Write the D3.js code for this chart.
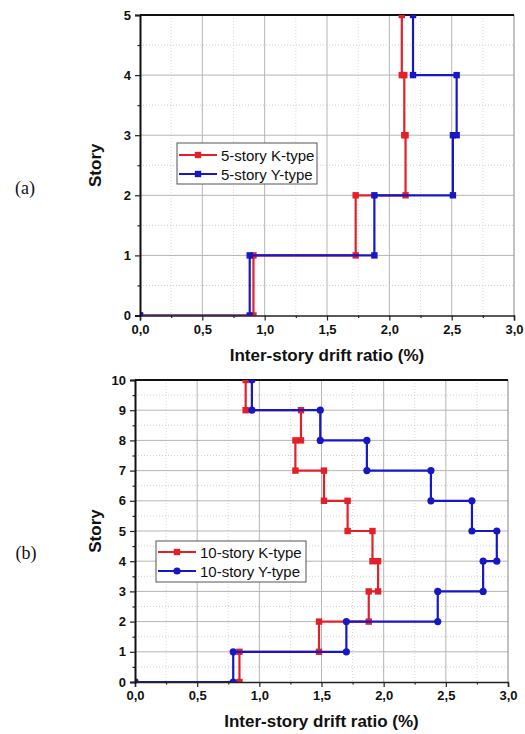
<!DOCTYPE html>
<html>
<head>
<meta charset="utf-8">
<script src="https://cdn.jsdelivr.net/npm/d3@7"></script>
<style>
  html, body { margin: 0; padding: 0; background: #fff; }
  svg { display: block; }
  .tick-label { font-family: "Liberation Sans", Arial, sans-serif; font-weight: bold; font-size: 13px; fill: #111; }
  .axis-title { font-family: "Liberation Sans", Arial, sans-serif; font-weight: bold; font-size: 17px; fill: #111; }
  .legend-text { font-family: "Liberation Sans", Arial, sans-serif; font-size: 15px; fill: #111; }
  .panel-tag { font-family: "Liberation Serif", "Times New Roman", serif; font-size: 18px; fill: #111; }
</style>
</head>
<body>
<svg id="chart" width="525" height="734"></svg>
<script>
// Peak inter-story drift ratio (%) for each story, bottom story first
const stories5 = [1, 2, 3, 4, 5];
const drift5K = [0.91, 1.73, 2.13, 2.12, 2.10];
const drift5Y = [0.88, 1.88, 2.51, 2.54, 2.19];

const stories10 = [1, 2, 3, 4, 5, 6, 7, 8, 9, 10];
const drift10K = [0.84, 1.48, 1.88, 1.955, 1.91, 1.71, 1.52, 1.29, 1.335, 0.89];
const drift10Y = [0.79, 1.70, 2.435, 2.80, 2.91, 2.71, 2.38, 1.865, 1.49, 0.94];

const xTicks = [0, 0.5, 1.0, 1.5, 2.0, 2.5, 3.0];
const xTickLabels = ["0,0", "0,5", "1,0", "1,5", "2,0", "2,5", "3,0"];
const xTitle = "Inter-story drift ratio (%)";
const yTitle = "Story";

const RED = "#e3202a";
const BLUE = "#1717c6";

const svg = d3.select("#chart");

// Step profile: from the ground at zero drift, each story rises at its own drift value
function stepPoints(stories, drift) {
  const pts = [[0, 0]];
  stories.forEach((s, i) => {
    pts.push([drift[i], s - 1]);
    pts.push([drift[i], s]);
  });
  return pts;
}

function drawPanel(opt) {
  const { id, left, right, top, bottom, nStories, series, legend, tag } = opt;
  const x = d3.scaleLinear().domain([0, 3]).range([left, right]);
  const y = d3.scaleLinear().domain([0, nStories]).range([bottom, top]);
  const g = svg.append("g");

  g.append("clipPath").attr("id", "clip-" + id)
    .append("rect").attr("x", left).attr("y", top)
    .attr("width", right - left).attr("height", bottom - top);

  // minor grid (dotted)
  const xMinor = d3.range(0.25, 3, 0.5);
  const yMinor = d3.range(0.5, nStories, 1);
  g.selectAll(".xminor").data(xMinor).join("line")
    .attr("x1", d => x(d)).attr("x2", d => x(d)).attr("y1", top).attr("y2", bottom)
    .attr("stroke", "#d8d8d8").attr("stroke-width", 1).attr("stroke-dasharray", "1,2");
  g.selectAll(".yminor").data(yMinor).join("line")
    .attr("x1", left).attr("x2", right).attr("y1", d => y(d)).attr("y2", d => y(d))
    .attr("stroke", "#cfcfcf").attr("stroke-width", 1).attr("stroke-dasharray", "1,2");

  // major grid
  g.selectAll(".xmajor").data(xTicks.slice(1, -1)).join("line")
    .attr("x1", d => x(d)).attr("x2", d => x(d)).attr("y1", top).attr("y2", bottom)
    .attr("stroke", "#b5b5b5").attr("stroke-width", 1);
  g.selectAll(".ymajor").data(d3.range(1, nStories)).join("line")
    .attr("x1", left).attr("x2", right).attr("y1", d => y(d)).attr("y2", d => y(d))
    .attr("stroke", "#b5b5b5").attr("stroke-width", 1);

  // frame: right border thin gray, top border black
  g.append("line").attr("x1", right).attr("x2", right).attr("y1", top).attr("y2", bottom)
    .attr("stroke", "#9a9a9a").attr("stroke-width", 1.2);
  g.append("line").attr("x1", left).attr("x2", right).attr("y1", top).attr("y2", top)
    .attr("stroke", "#111").attr("stroke-width", 2);

  // data
  const dataG = g.append("g").attr("clip-path", "url(#clip-" + id + ")");
  const line = d3.line().x(d => x(d[0])).y(d => y(d[1]));
  series.forEach(s => {
    const pts = stepPoints(s.stories, s.drift);
    dataG.append("path").datum(pts).attr("d", line)
      .attr("fill", "none").attr("stroke", s.color).attr("stroke-width", 2.2);
    if (s.symbol === "circle") {
      dataG.selectAll(null).data(pts).join("circle")
        .attr("cx", d => x(d[0])).attr("cy", d => y(d[1])).attr("r", 3.6)
        .attr("fill", s.color);
    } else {
      dataG.selectAll(null).data(pts).join("rect")
        .attr("x", d => x(d[0]) - 3.2).attr("y", d => y(d[1]) - 3.2)
        .attr("width", 6.4).attr("height", 6.4).attr("fill", s.color);
    }
  });

  // bottom axis
  const xAxis = d3.axisBottom(x).tickValues(xTicks)
    .tickFormat((d, i) => xTickLabels[i]).tickSize(5).tickPadding(4);
  const xa = g.append("g").attr("transform", `translate(0,${bottom})`).call(xAxis);
  xa.select(".domain").attr("stroke", "#222").attr("stroke-width", 1.5);
  xa.selectAll(".tick line").attr("stroke", "#222").attr("stroke-width", 1.2);
  xa.selectAll(".tick text").attr("class", "tick-label").attr("font-size", null).attr("font-family", null);
  const xMinorAxis = d3.axisBottom(x).tickValues(xMinor).tickSize(2.5).tickFormat("");
  const xm = g.append("g").attr("transform", `translate(0,${bottom})`).call(xMinorAxis);
  xm.select(".domain").remove();
  xm.selectAll(".tick line").attr("stroke", "#222").attr("stroke-width", 1.2);

  // left axis
  const yAxis = d3.axisLeft(y).tickValues(d3.range(0, nStories + 1))
    .tickFormat(d3.format("d")).tickSize(5).tickPadding(4);
  const ya = g.append("g").attr("transform", `translate(${left},0)`).call(yAxis);
  ya.select(".domain").attr("stroke", "#111").attr("stroke-width", 2);
  ya.selectAll(".tick line").attr("stroke", "#222").attr("stroke-width", 1.2);
  ya.selectAll(".tick text").attr("class", "tick-label").attr("font-size", null).attr("font-family", null);
  const yMinorAxis = d3.axisLeft(y).tickValues(yMinor).tickSize(2.5).tickFormat("");
  const ym = g.append("g").attr("transform", `translate(${left},0)`).call(yMinorAxis);
  ym.select(".domain").remove();
  ym.selectAll(".tick line").attr("stroke", "#222").attr("stroke-width", 1.2);

  // titles
  g.append("text").attr("class", "axis-title")
    .attr("x", (left + right) / 2).attr("y", opt.xTitleY)
    .attr("text-anchor", "middle").attr("dominant-baseline", "middle").text(xTitle);
  g.append("text").attr("class", "axis-title")
    .attr("transform", `translate(${opt.yTitleX},${(top + bottom) / 2}) rotate(-90)`)
    .attr("text-anchor", "middle").attr("dominant-baseline", "middle").text(yTitle);

  // panel tag
  g.append("text").attr("class", "panel-tag")
    .attr("x", tag.x).attr("y", tag.y).attr("text-anchor", "middle")
    .attr("dominant-baseline", "middle").text(tag.text);

  // legend
  const lg = g.append("g");
  lg.append("rect").attr("x", legend.x).attr("y", legend.y)
    .attr("width", legend.w).attr("height", legend.h)
    .attr("fill", "#fff").attr("stroke", "#555").attr("stroke-width", 1);
  series.forEach((s, i) => {
    const ry = legend.y + legend.row0 + i * legend.rowGap;
    lg.append("line").attr("x1", legend.x + 2).attr("x2", legend.x + 2 + legend.lineLen)
      .attr("y1", ry).attr("y2", ry).attr("stroke", s.color).attr("stroke-width", 2.2);
    const mx = legend.x + 2 + legend.lineLen / 2;
    if (s.symbol === "circle") {
      lg.append("circle").attr("cx", mx).attr("cy", ry).attr("r", 3.6).attr("fill", s.color);
    } else {
      lg.append("rect").attr("x", mx - 3.2).attr("y", ry - 3.2)
        .attr("width", 6.4).attr("height", 6.4).attr("fill", s.color);
    }
    lg.append("text").attr("class", "legend-text")
      .attr("x", legend.x + legend.lineLen + 6).attr("y", ry)
      .attr("dominant-baseline", "central").text(s.name);
  });
}

drawPanel({
  id: "a", left: 140, right: 514, top: 15, bottom: 315.5, nStories: 5,
  xTitleY: 357, yTitleX: 97,
  tag: { text: "(a)", x: 25, y: 190 },
  legend: { x: 177, y: 143, w: 140, h: 41, row0: 12, rowGap: 19, lineLen: 38 },
  series: [
    { name: "5-story K-type", stories: stories5, drift: drift5K, color: RED, symbol: "square" },
    { name: "5-story Y-type", stories: stories5, drift: drift5Y, color: BLUE, symbol: "square" }
  ]
});

drawPanel({
  id: "b", left: 135, right: 508, top: 380, bottom: 682, nStories: 10,
  xTitleY: 723, yTitleX: 97,
  tag: { text: "(b)", x: 26, y: 555 },
  legend: { x: 156, y: 541, w: 150, h: 41, row0: 11, rowGap: 19, lineLen: 38 },
  series: [
    { name: "10-story K-type", stories: stories10, drift: drift10K, color: RED, symbol: "square" },
    { name: "10-story Y-type", stories: stories10, drift: drift10Y, color: BLUE, symbol: "circle" }
  ]
});
</script>
</body>
</html>
